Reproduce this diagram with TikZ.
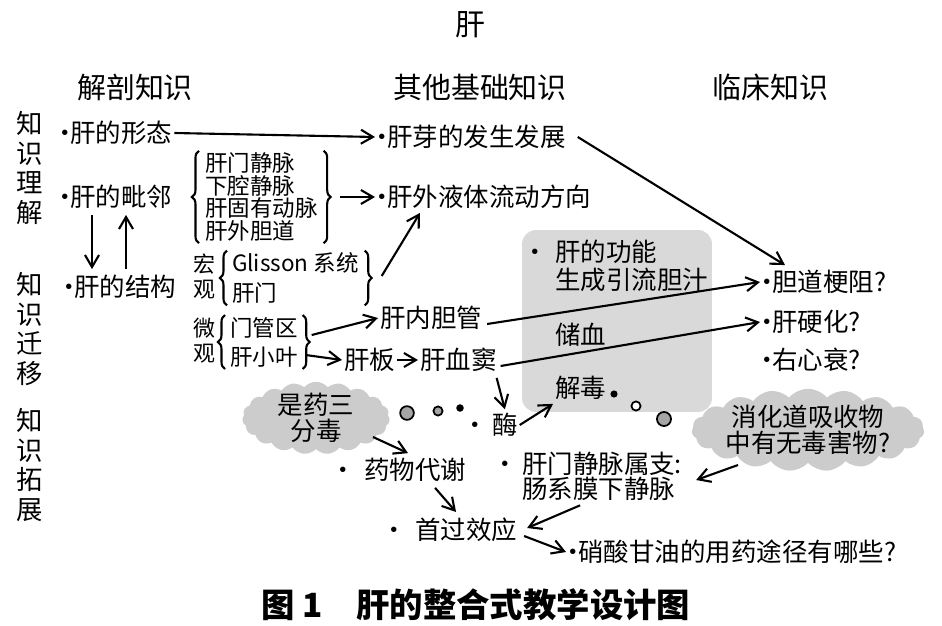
\documentclass[tikz,border=0pt]{standalone}
\usepackage{fontspec}
\setmainfont{Noto Sans CJK SC}
\usetikzlibrary{arrows.meta,positioning,calc,shapes.symbols,decorations.pathreplacing}
\definecolor{boxgray}{RGB}{217,217,217}
\definecolor{cloudgray}{RGB}{204,204,204}
\definecolor{bubgray}{RGB}{165,165,165}
\newcommand\bul{\makebox[0.4em][c]{·}}
\tikzset{
    txt/.style={
        font=\fontsize{14.5}{14.5}\selectfont, inner sep=1pt,
        anchor=west, align=left
    },
    sml/.style={
        font=\fontsize{12.8}{12.8}\selectfont, inner sep=1pt, align=left
    },
    head/.style={font=\fontsize{16.5}{17}\selectfont, inner sep=1pt},
    side/.style={
        font=\fontsize{15}{17}\selectfont, inner sep=1pt, align=center
    },
    arrow/.style={
        -{Straight Barb[length=2.4mm,width=2.8mm]}, line width=1.2pt
    },
    brc/.style={
        decorate, decoration={brace, amplitude=4pt}, line width=1.2pt
    },
    cloudbox/.style={
        cloud, cloud puffs=19, cloud puff arc=100, cloud ignores aspect,
        fill=cloudgray, draw=none, inner sep=0pt
    },
    cloudtxt/.style={
        align=center, inner sep=0pt, font=\fontsize{14.5}{14.5}\selectfont
    },
    funcbox/.style={
        fill=boxgray, rounded corners=8pt, minimum width=3.8cm,
        minimum height=3.64cm
    },
    bubble/.style={draw=black, line width=1pt, fill=#1},
    bubble/.default=bubgray
}
\begin{document}
\begin{tikzpicture}[x=0.02cm, y=-0.02cm]
\useasboundingbox (0,0) rectangle (942,625);
% headings
\node[head, font=\fontsize{17}{17}\selectfont] (title) at (470,25) {肝};
\node[head] (h1) at (135,87) {解剖知识};
\node[head] (h2) at (480,87) {其他基础知识};
\node[head] (h3) at (770,87) {临床知识};
\node[side] (s1) at (30,168) {知\\识\\理\\解};
\node[side] (s2) at (30,329) {知\\识\\迁\\移};
\node[side] (s3) at (30,465) {知\\识\\拓\\展};
% function box behind
\node[funcbox] (func) at (617,321) {};
\node[txt] (f1) at (553,252) {\llap{\bul\hspace{0.6em}}肝的功能};
\node[txt] (f2) at (553,280) {生成引流胆汁};
\node[txt] (f3) at (553,335) {储血};
\node[txt] (f4) at (553,388) {解毒};
% anatomy
\node[txt] (form) at (58,133) {\bul 肝的形态};
\node[txt] (adj) at (58,197) {\bul 肝的毗邻};
\node[txt] (struct) at (62,287) {\bul 肝的结构};
\draw[arrow] ($(adj.south west)+(34,4)$) -- ($(struct.north west)+(30,-4)$);
\draw[arrow] ($(struct.north west)+(64,-4)$) -- ($(adj.south west)+(68,4)$);
\node[sml, anchor=west] (vessels) at (203,197)
  {肝门静脉\\下腔静脉\\肝固有动脉\\肝外胆道};
\draw[brc] ($(vessels.south west)+(-4,0)$) -- ($(vessels.north west)+(-4,0)$);
\draw[brc] ($(vessels.north east)+(4,0)$) -- ($(vessels.south east)+(4,0)$);
\coordinate (vtip) at ($(vessels.east)+(20,0)$);
% basic knowledge
\node[txt] (bud) at (375,137) {\bul 肝芽的发生发展};
\node[txt] (fluid) at (375,197) {\bul 肝外液体流动方向};
\draw[arrow] (form.east) -- (bud.west);
\draw[arrow] (vtip) -- (fluid.west);
% structure
\node[sml, font=\fontsize{12.5}{14.2}\selectfont] (hong) at (204,277) {宏\\观};
\node[sml, anchor=west, font=\fontsize{12.8}{17}\selectfont] (macro) at (230,278)
  {Glisson 系统\\肝门};
\draw[brc] ($(macro.south west)+(-3,0)$) -- ($(macro.north west)+(-3,0)$);
\draw[brc] ($(macro.north east)+(4,0)$) -- ($(macro.south east)+(4,0)$);
\draw[arrow] ($(macro.east)+(21,-2)$) -- ($(fluid.south west)+(45,2)$);
\node[sml, font=\fontsize{12.5}{14.2}\selectfont] (wei) at (204,341) {微\\观};
\node[sml, anchor=west, font=\fontsize{12.8}{16.5}\selectfont] (micro) at (228,342)
  {门管区\\肝小叶};
\draw[brc] ($(micro.south west)+(-3,0)$) -- ($(micro.north west)+(-3,0)$);
\draw[brc] ($(micro.north east)+(3,0)$) -- ($(micro.south east)+(3,0)$);
\node[txt] (duct) at (378,318) {肝内胆管};
\node[txt] (plate) at (342,360) {肝板};
\node[txt] (sinus) at (418,360) {肝血窦};
\draw[arrow] ($(micro.east)+(12,-7)$) -- (duct.west);
\draw[arrow] ($(micro.east)+(6,13)$) -- (plate.west);
\draw[arrow] (plate.east) -- (sinus.west);
% clinical
\node[txt] (obstr) at (760,282) {\bul 胆道梗阻?};
\node[txt] (cirr) at (760,322) {\bul 肝硬化?};
\node[txt] (heart) at (760,360) {\bul 右心衰?};
\draw[arrow] ($(bud.east)+(10,0)$) -- ($(obstr.north west)+(25,-3)$);
\draw[arrow] ($(duct.east)+(3,6)$) -- (obstr.west);
\draw[arrow] ($(sinus.east)+(2,6)$) -- (cirr.west);
% enzyme and bubbles
\node[txt] (enz) at (490,425) {\llap{\bul\hspace{0.45em}}酶};
\draw[arrow] ($(sinus.south east)+(-2,4)$) -- ($(enz.north)+(0,-2)$);
\draw[arrow] (enz.east) -- ($(f4.south west)+(0,2)$);
\draw[bubble] (407,413) circle (3.9pt);
\draw[bubble] (438,411) circle (2.6pt);
\draw[bubble=black] (460,408) circle (1.6pt);
\draw[bubble=black] (614,394) circle (1.5pt);
\draw[bubble=white] (636,406) circle (2.6pt);
\draw[bubble] (664,419) circle (4pt);
% clouds
\node[cloudbox, minimum width=2.95cm, minimum height=1.45cm] (c1) at (316,418) {};
\node[cloudtxt] (c1t) at (c1.center) {是药三\\分毒};
\node[cloudbox, minimum width=4.65cm, minimum height=1.65cm] (c2) at (808,430) {};
\node[cloudtxt] (c2t) at (c2.center) {消化道吸收物\\中有无毒害物?};
% extension
\node[txt] (drug) at (362,470) {\llap{\bul\hspace{0.6em}}药物代谢};
\node[txt, font=\fontsize{14.5}{14.2}\selectfont] (portal) at (520,476)
  {\llap{\bul\hspace{0.45em}}肝门静脉属支:\\肠系膜下静脉};
\node[txt] (fpass) at (413,530) {\llap{\bul\hspace{0.6em}}首过效应};
\node[txt] (nitro) at (566,552) {\bul 硝酸甘油的用药途径有哪些?};
\draw[arrow] ($(c1.center)+(57,19)$) -- ($(drug.north)+(-7,-3)$);
\draw[arrow] ($(c2.center)+(-70,35)$) -- ($(portal.east)+(12,4)$);
\draw[arrow] ($(drug.south)+(20,4)$) -- ($(fpass.north)+(-10,-4)$);
\draw[arrow] ($(portal.south)+(-22,3)$) -- ($(fpass.east)+(8,-2)$);
\draw[arrow] ($(fpass.east)+(5,6)$) -- (nitro.west);
% caption
\node[font=\fontsize{19}{19}\selectfont\bfseries] (cap) at (476,605)
  {图~1\hspace{1em}肝的整合式教学设计图};
\end{tikzpicture}
\end{document}
